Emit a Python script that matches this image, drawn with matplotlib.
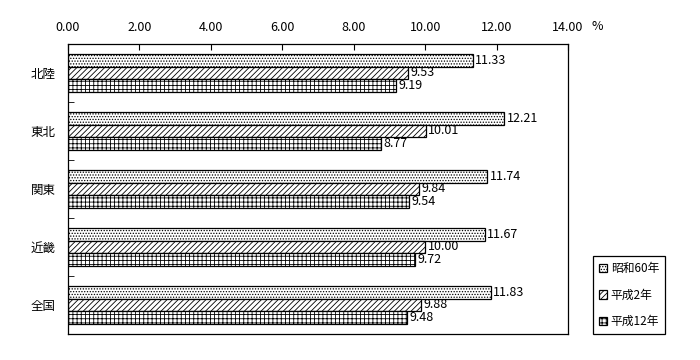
import numpy as np
import matplotlib
matplotlib.use("Agg")
import matplotlib.pyplot as plt
from matplotlib.ticker import FixedLocator

plt.rcParams['font.family'] = ['Noto Sans CJK JP', 'DejaVu Sans']
plt.rcParams['hatch.linewidth'] = 0.6

# Data
regions = ["北陸", "東北", "関東", "近畿", "全国"]
series_names = ["昭和60年", "平成2年", "平成12年"]
s60 = [11.33, 12.21, 11.74, 11.67, 11.83]
h2 = [9.53, 10.01, 9.84, 10.00, 9.88]
h12 = [9.19, 8.77, 9.54, 9.72, 9.48]
xticks = [0, 2, 4, 6, 8, 10, 12, 14]

fig = plt.figure(figsize=(7, 3.6), dpi=100)
ax = fig.add_axes([68/700, 1 - 334/360, 500/700, 290/360])

y = np.arange(len(regions))
h = 0.22
hatches = ['......', '//////', '++++']
for i, (vals, name) in enumerate(zip([s60, h2, h12], series_names)):
    pos = y + (i - 1) * h
    ax.barh(pos, vals, height=h, color='white', edgecolor='black',
            linewidth=0.9, hatch=hatches[i], label=name)
    for p, v in zip(pos, vals):
        ax.text(v + 0.07, p, f"{v:.2f}", va='center', ha='left', fontsize=9)

ax.set_xlim(0, 14)
ax.set_ylim(len(regions) - 0.5, -0.5)
ax.xaxis.tick_top()
ax.set_xticks(xticks)
ax.set_xticklabels([f"{t:.2f}" for t in xticks], fontsize=9)
ax.tick_params(axis='x', direction='in', length=4, pad=7)
ax.set_yticks(y)
ax.set_yticklabels(regions, fontsize=9)
ax.tick_params(axis='y', which='major', length=0, pad=9)
ax.yaxis.set_minor_locator(FixedLocator(np.arange(0.5, len(regions) - 0.5, 1)))
ax.tick_params(axis='y', which='minor', direction='in', length=4)
for s in ax.spines.values():
    s.set_linewidth(0.9)

fig.text(591/700, 1 - 27/360, "%", fontsize=9, va='center', ha='left')

leg = fig.legend(loc='lower left', bbox_to_anchor=(593/700, 1 - 334/360),
                 fontsize=8.5, handlelength=0.7, handleheight=0.7,
                 handletextpad=0.3, labelspacing=1.15, borderpad=0.5,
                 borderaxespad=0, fancybox=False, edgecolor='black', framealpha=1)
leg.get_frame().set_linewidth(0.9)

fig.savefig("out.png", dpi=100)
